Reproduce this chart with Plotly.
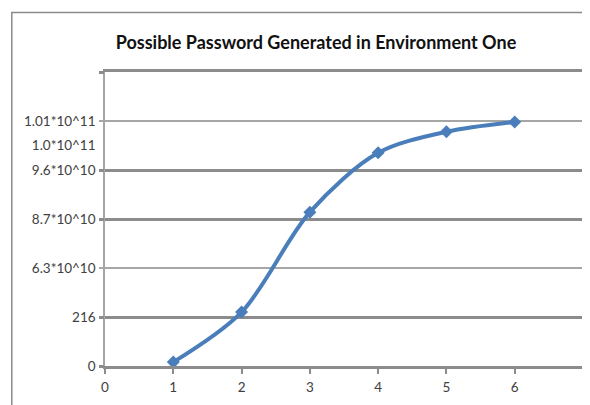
import plotly.graph_objects as go

# ---- data ----
title_text = "Possible Password Generated in Environment One"
x_values = [1, 2, 3, 4, 5, 6]
y_values = [0.08, 1.1, 3.14, 4.35, 4.78, 4.98]   # position on the (non-linear) label scale

x_tickvals = [0, 1, 2, 3, 4, 5, 6]
x_ticktext = ["0", "1", "2", "3", "4", "5", "6"]

y_tickvals = [0, 1, 2, 3, 4, 4.5, 5]
y_ticktext = ["0", "216", "6.3*10^10", "8.7*10^10", "9.6*10^10", "1.0*10^11", "1.01*10^11"]

grid_major = [0, 1, 3, 4, 6]
grid_minor = [2, 5]

# ---- styling ----
FONT = "Lato, 'Open Sans', sans-serif"
LINE_BLUE = "#4a7ebb"
GRID_DARK = "#8c8c8c"
GRID_LIGHT = "#a6a6a6"
Y_RANGE = [0, 6]

fig = go.Figure()
fig.add_trace(go.Scatter(
    x=x_values, y=y_values, mode="lines+markers",
    line=dict(color=LINE_BLUE, width=4, shape="spline", smoothing=0.9),
    marker=dict(symbol="diamond", size=10, color=LINE_BLUE),
    showlegend=False, hoverinfo="skip",
))

fig.update_layout(
    width=590, height=405,
    margin=dict(l=97, r=15, t=64, b=47, autoexpand=False),
    paper_bgcolor="white", plot_bgcolor="white",
    font=dict(family=FONT, size=13, color="#404040"),
    title=dict(text="<b>" + title_text + "</b>", x=0.522, xanchor="center",
               y=0.914, yanchor="middle",
               font=dict(family=FONT, size=18, color="#111111")),
    xaxis=dict(range=[0, 7], tickvals=x_tickvals, ticktext=x_ticktext,
               showgrid=False, zeroline=False, automargin=False,
               showline=True, mirror=True, linecolor=GRID_DARK, linewidth=3,
               ticks="outside", ticklen=5, tickwidth=1.5, tickcolor=GRID_DARK,
               ticklabelstandoff=2,
               tickfont=dict(size=13.5, color="#404040")),
    yaxis=dict(range=Y_RANGE, tickvals=y_tickvals, ticktext=y_ticktext,
               showgrid=False, zeroline=False, automargin=False,
               showline=True, linecolor=GRID_LIGHT, linewidth=1.5,
               ticks="", ticklabelstandoff=5,
               tickfont=dict(size=13.5, color="#404040")),
    yaxis2=dict(range=Y_RANGE, overlaying="y", side="left", tickvals=grid_major,
                showticklabels=False, showgrid=True, gridcolor=GRID_DARK, gridwidth=3,
                zeroline=False, automargin=False,
                ticks="outside", ticklen=5, tickwidth=3, tickcolor=GRID_DARK),
    yaxis3=dict(range=Y_RANGE, overlaying="y", side="left", tickvals=grid_minor,
                showticklabels=False, showgrid=True, gridcolor=GRID_LIGHT, gridwidth=1.5,
                zeroline=False, automargin=False,
                ticks="outside", ticklen=5, tickwidth=1.5, tickcolor=GRID_LIGHT),
    shapes=[dict(type="rect", xref="paper", yref="paper",
                 x0=-0.195, x1=1.2, y0=-0.5, y1=1.202,
                 line=dict(color="#8a8a8a", width=1.5), layer="below")],
)

# dummy traces so the overlay axes are rendered
fig.add_trace(go.Scatter(x=[None], y=[None], yaxis="y2", showlegend=False, hoverinfo="skip"))
fig.add_trace(go.Scatter(x=[None], y=[None], yaxis="y3", showlegend=False, hoverinfo="skip"))

fig.write_html("out.html")
